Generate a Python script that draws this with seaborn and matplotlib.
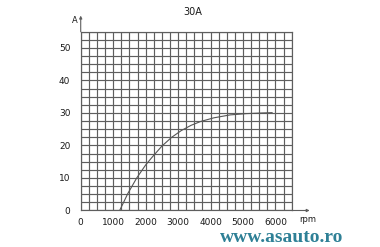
import numpy as np
import pandas as pd
import matplotlib
matplotlib.use("Agg")
import matplotlib.pyplot as plt
import seaborn as sns

# Data
rpm = [1200, 1450, 1725, 2000, 2200, 2500, 2800, 3100, 3400, 3700, 4100, 4600, 5100, 5600, 5900]
amps = [0, 5.2, 10, 14.0, 16.4, 19.8, 22.5, 24.6, 26.2, 27.4, 28.5, 29.4, 29.8, 30.0, 30.1]
x_ticks = [0, 1000, 2000, 3000, 4000, 5000, 6000]
y_ticks = [0, 10, 20, 30, 40, 50]
title = "30A"
x_unit = "rpm"
y_unit = "A"
watermark = "www.asauto.ro"

sns.set_style("white")
plt.rcParams['font.family'] = ['Liberation Sans Narrow', 'DejaVu Sans']

df = pd.DataFrame({"rpm": rpm, "A": amps})

fig = plt.figure(figsize=(3.8, 2.47), dpi=100)
ax = fig.add_axes([0.2124, 0.1478, 0.5553, 0.7239])

grid_col = "#5e5e5e"
ax.set_xlim(0, 6500)
ax.set_ylim(0, 55)
ax.set_xticks(x_ticks)
ax.set_yticks(y_ticks)
ax.set_xticks(np.arange(0, 6501, 250), minor=True)
ax.set_yticks(np.arange(0, 55.1, 2.5), minor=True)
ax.grid(which="both", color=grid_col, linewidth=0.85)
ax.set_axisbelow(True)
for s in ax.spines.values():
    s.set_color(grid_col)
    s.set_linewidth(0.85)

sns.lineplot(data=df, x="rpm", y="A", ax=ax, color="#555555", linewidth=0.8)
ax.set_xlabel("")
ax.set_ylabel("")

ax.tick_params(axis="y", which="major", length=6.5, width=0.8, color=grid_col,
               pad=1, labelsize=6.5, labelcolor="#1a1a1a")
ax.tick_params(axis="x", which="major", length=3, width=0.8, color=grid_col,
               pad=2.5, labelsize=6.5, labelcolor="#1a1a1a")
ax.tick_params(which="minor", length=0)
ax.set_xticklabels([str(v) for v in x_ticks])
ax.set_yticklabels([str(v) for v in y_ticks])

# axis extensions with arrows
ax.annotate("", xy=(0, 1.09), xytext=(0, 1.0), xycoords="axes fraction",
            arrowprops=dict(arrowstyle="-|>", color=grid_col, lw=0.8,
                            mutation_scale=4, shrinkA=0, shrinkB=0),
            annotation_clip=False)
ax.annotate("", xy=(1.085, 0), xytext=(1.0, 0), xycoords="axes fraction",
            arrowprops=dict(arrowstyle="-|>", color=grid_col, lw=0.8,
                            mutation_scale=4, shrinkA=0, shrinkB=0),
            annotation_clip=False)

fig.text(0.508, 0.951, title, ha="center", va="center", fontsize=7, color="#1a1a1a")
fig.text(0.197, 0.919, y_unit, ha="center", va="center", fontsize=6, color="#1a1a1a")
fig.text(0.811, 0.113, x_unit, ha="center", va="center", fontsize=6, color="#1a1a1a")
fig.text(0.742, 0.04, watermark, ha="center", va="center", fontsize=14,
         fontweight="bold", family=["Liberation Serif", "DejaVu Serif"], color="#2e8096")

fig.savefig("out.png", dpi=100, facecolor="white")
